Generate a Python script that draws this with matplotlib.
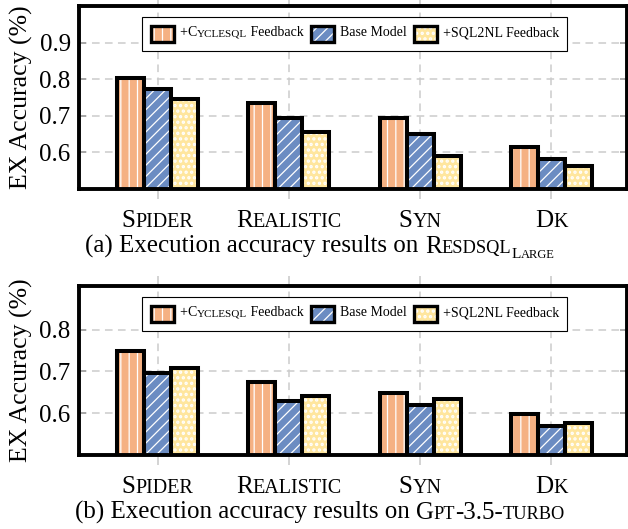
import numpy as np
import matplotlib
matplotlib.use("Agg")
import matplotlib.pyplot as plt
from matplotlib.patches import Rectangle
from matplotlib.transforms import IdentityTransform

# ---------------- data ----------------
categories = ["Spider", "Realistic", "Syn", "Dk"]
series_names = ["+CycleSQL Feedback", "Base Model", "+SQL2NL Feedback"]

resdsql_cycle = [0.802, 0.735, 0.695, 0.614]
resdsql_base = [0.772, 0.694, 0.651, 0.581]
resdsql_sql2nl = [0.747, 0.656, 0.591, 0.562]

gpt_cycle = [0.748, 0.675, 0.649, 0.599]
gpt_base = [0.695, 0.630, 0.619, 0.569]
gpt_sql2nl = [0.707, 0.642, 0.635, 0.576]

yticks_top = [0.6, 0.7, 0.8, 0.9]
yticks_bottom = [0.6, 0.7, 0.8]

# ---------------- style ----------------
FONT = "Liberation Serif"
plt.rcParams["font.family"] = [FONT, "DejaVu Serif"]
plt.rcParams["hatch.linewidth"] = 0.9

colors = ["#F5B183", "#6B8CC2", "#FFE69E"]
hatches = ["||", "///", "..."]
hatch_lws = [0.9, 0.9, 1.6]
W, H = 628, 529
DPI = 100

fig = plt.figure(figsize=(W / DPI, H / DPI), dpi=DPI)
renderer = fig.canvas.get_renderer()
ID = IdentityTransform()


def set_hlw(patch, lw):
    if hasattr(patch, "set_hatch_linewidth"):
        patch.set_hatch_linewidth(lw)


def text_width(s, size):
    t = fig.text(0, 0, "|" + s + "|", fontsize=size, family=FONT)
    w1 = t.get_window_extent(renderer).width
    t.set_text("||")
    w0 = t.get_window_extent(renderer).width
    t.remove()
    return w1 - w0


def draw_run(pieces, x, y_top, align="left"):
    """pieces: list of (text, size, dy_px). y_top: baseline in px from top."""
    widths = [text_width(p[0], p[1]) for p in pieces]
    total = sum(widths)
    if align == "center":
        x = x - total / 2
    base = H - y_top
    for (s, size, dy), w in zip(pieces, widths):
        fig.text(x, base + dy, s, fontsize=size, family=FONT,
                 ha="left", va="baseline", transform=ID, zorder=20)
        x += w
    return x


def smallcaps(word, big, small):
    return [(word[0], big, 0), (word[1:].upper(), small, 0)]


def draw_bars(ax, values_list, width, lw):
    offsets = [-width, 0, width]
    x = np.arange(len(categories))
    for vals, c, h, hl, off in zip(values_list, colors, hatches, hatch_lws, offsets):
        with plt.rc_context({"hatch.linewidth": hl}):
            bars = ax.bar(x + off, vals, width, color=c, edgecolor="white",
                          hatch=h, linewidth=0, zorder=2)
        for b in bars:
            set_hlw(b, hl)
        ax.bar(x + off, vals, width, fill=False, edgecolor="black",
               linewidth=lw, zorder=3)


legend_pieces = [
    [("+", 10, 0), ("C", 10, 0), ("YCLESQL", 8, 0), (" Feedback", 10, 0)],
    [("Base Model", 10, 0)],
    [("+SQL2NL Feedback", 10, 0)],
]


def draw_legend(frame_left, frame_top, frame_right, frame_h):
    fig.add_artist(Rectangle((frame_left, H - frame_top - frame_h),
                             frame_right - frame_left, frame_h,
                             transform=ID, facecolor="white",
                             edgecolor="black", linewidth=0.8, zorder=10))
    hw, hh = 23, 16
    x = frame_left + 9
    cy = frame_top + 17.5
    for pieces, c, h, hl in zip(legend_pieces, colors, hatches, hatch_lws):
        with plt.rc_context({"hatch.linewidth": hl}):
            r = Rectangle((x, H - cy - hh / 2), hw, hh, transform=ID,
                          facecolor=c, edgecolor="white", hatch=h,
                          linewidth=0, zorder=11)
        set_hlw(r, hl)
        fig.add_artist(r)
        fig.add_artist(Rectangle((x, H - cy - hh / 2), hw, hh, transform=ID,
                                 fill=False, edgecolor="black",
                                 linewidth=2.4, zorder=12))
        x += hw + 6
        x = draw_run(pieces, x, frame_top + 20)
        x += 7


def setup_axes(rect_px, ylim, yticks):
    l, t, w, h = rect_px
    ax = fig.add_axes([l / W, 1 - (t + h) / H, w / W, h / H])
    ax.set_xlim(-0.60, 3.577)
    ax.set_ylim(*ylim)
    ax.set_xticks(np.arange(len(categories)))
    ax.set_xticklabels([])
    ax.set_yticks(yticks)
    ax.set_yticklabels([f"{v:.1f}" for v in yticks], fontsize=18)
    ax.tick_params(axis="x", which="both", direction="out", length=7,
                   width=1.1, color="#c8c8c8", top=True, bottom=True)
    ax.tick_params(axis="y", which="both", direction="in", length=5,
                   width=1.1, color="#999999", left=True, right=True, pad=6)
    ax.grid(True, color="#cccccc", linestyle=(0, (5, 3.5)), linewidth=1.1)
    ax.set_axisbelow(True)
    for s in ax.spines.values():
        s.set_linewidth(2.8)
        s.set_zorder(5)
    ax.set_ylabel("EX Accuracy (%)", fontsize=18.5)
    ax.yaxis.set_label_coords(-(l - 33) / w, 0.5)
    return ax


CAP = 18
CAP_SC = 13.2
panels = [
    dict(rect=(79, 6, 548, 183), ylim=(0.5, 1.0), yticks=yticks_top,
         values=[resdsql_cycle, resdsql_base, resdsql_sql2nl],
         caption=[("(a) Execution accuracy results on ", CAP, 0), ("R", CAP, 0),
                  ("ESDSQL", CAP_SC, 0), ("L", 11, -5), ("ARGE", 9, -5)]),
    dict(rect=(79, 286, 548, 169), ylim=(0.5, 0.904), yticks=yticks_bottom,
         values=[gpt_cycle, gpt_base, gpt_sql2nl],
         caption=[("(b) Execution accuracy results on ", CAP, 0), ("G", CAP, 0),
                  ("PT", CAP_SC, 0), ("-3.5-", CAP, 0), ("TURBO", CAP_SC, 0)]),
]

for p in panels:
    ax = setup_axes(p["rect"], p["ylim"], p["yticks"])
    draw_bars(ax, p["values"], 0.206, 2.9)
    l, t, w, h = p["rect"]
    bottom_px = t + h
    for i, cat in enumerate(categories):
        xpix = ax.transData.transform((i, 0))[0]
        draw_run(smallcaps(cat, 18, 14.5), xpix, bottom_px + 38, align="center")
    draw_run(p["caption"], 320, bottom_px + 64, align="center")
    draw_legend(141.7, t + 10.5, 567, 34)

fig.savefig("out.png", dpi=DPI)
